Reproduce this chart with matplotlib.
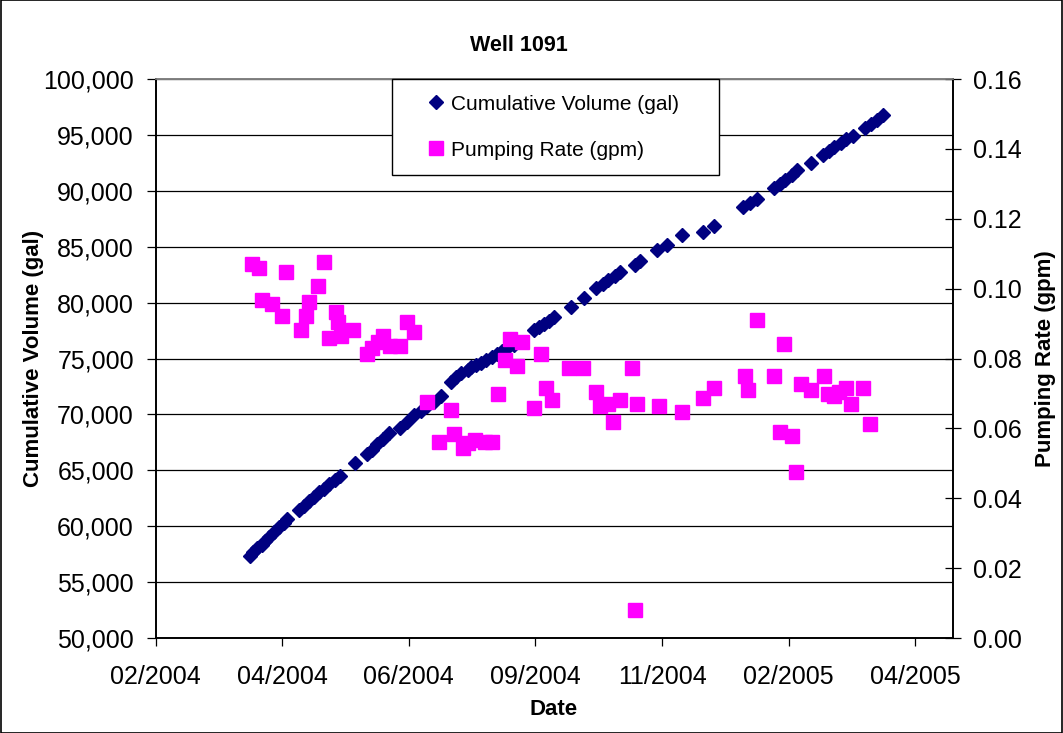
import pandas as pd
import matplotlib
matplotlib.use("Agg")
import matplotlib.pyplot as plt
import matplotlib.dates as mdates
from matplotlib.patches import Rectangle
from matplotlib.ticker import FuncFormatter, MultipleLocator, FixedLocator

plt.rcParams["font.family"] = ["Liberation Sans", "DejaVu Sans"]

# cumulative volume readings (gal)
vol_dates = [
    "2004-03-28", "2004-03-30", "2004-04-01", "2004-04-04", "2004-04-06",
    "2004-04-08", "2004-04-11", "2004-04-14", "2004-04-17", "2004-04-19",
    "2004-04-26", "2004-04-29", "2004-05-02", "2004-05-05", "2004-05-08",
    "2004-05-11", "2004-05-14", "2004-05-17", "2004-05-20", "2004-05-29",
    "2004-06-05", "2004-06-08", "2004-06-11", "2004-06-15", "2004-06-18",
    "2004-06-25", "2004-06-29", "2004-07-03", "2004-07-07", "2004-07-11",
    "2004-07-15", "2004-07-19", "2004-07-25", "2004-07-28", "2004-07-31",
    "2004-08-04", "2004-08-06", "2004-08-09", "2004-08-12", "2004-08-15",
    "2004-08-18", "2004-08-21", "2004-08-24", "2004-08-27", "2004-08-31",
    "2004-09-12", "2004-09-15", "2004-09-18", "2004-09-21", "2004-09-24",
    "2004-10-04", "2004-10-12", "2004-10-19", "2004-10-23", "2004-10-26",
    "2004-10-30", "2004-11-02", "2004-11-11", "2004-11-14", "2004-11-24",
    "2004-11-30", "2004-12-09", "2004-12-21", "2004-12-28", "2005-01-14",
    "2005-01-18", "2005-01-22", "2005-02-01", "2005-02-05", "2005-02-08",
    "2005-02-12", "2005-02-15", "2005-02-23", "2005-03-02", "2005-03-06",
    "2005-03-09", "2005-03-13", "2005-03-16", "2005-03-20", "2005-03-27",
    "2005-03-31", "2005-04-03", "2005-04-07",
]
volume = [
    57340, 57690, 58050, 58320, 58680,
    59030, 59480, 59930, 60290, 60650,
    61450, 61810, 62210, 62610, 63020,
    63370, 63780, 64130, 64490, 65610,
    66460, 66820, 67350, 67800, 68340,
    68790, 69320, 69950, 70310, 70710,
    71110, 71650, 72900, 73350, 73700,
    73970, 74200, 74420, 74640, 74870,
    75140, 75400, 75670, 75940, 76210,
    77550, 77820, 78090, 78360, 78710,
    79650, 80410, 81310, 81670, 82020,
    82380, 82740, 83370, 83680, 84710,
    85150, 86050, 86320, 86810, 88550,
    88910, 89270, 90250, 90610, 90970,
    91420, 91860, 92490, 93210, 93560,
    93920, 94280, 94640, 94900, 95620,
    95980, 96340, 96780,
]

# pumping rate readings (gpm)
rate_dates = [
    "2004-03-29", "2004-04-02", "2004-04-04", "2004-04-10", "2004-04-16",
    "2004-04-18", "2004-04-27", "2004-04-30", "2004-05-02", "2004-05-07",
    "2004-05-11", "2004-05-14", "2004-05-18", "2004-05-19", "2004-05-21",
    "2004-05-28", "2004-06-05", "2004-06-08", "2004-06-12", "2004-06-15",
    "2004-06-19", "2004-06-25", "2004-06-29", "2004-07-03", "2004-07-11",
    "2004-07-18", "2004-07-25", "2004-07-27", "2004-08-01", "2004-08-04",
    "2004-08-08", "2004-08-14", "2004-08-18", "2004-08-22", "2004-08-26",
    "2004-08-29", "2004-09-02", "2004-09-05", "2004-09-12", "2004-09-16",
    "2004-09-19", "2004-09-23", "2004-10-03", "2004-10-11", "2004-10-19",
    "2004-10-21", "2004-10-26", "2004-10-29", "2004-11-02", "2004-11-09",
    "2004-11-11", "2004-11-12", "2004-11-25", "2004-12-09", "2004-12-21",
    "2004-12-28", "2005-01-15", "2005-01-17", "2005-01-22", "2005-02-01",
    "2005-02-05", "2005-02-07", "2005-02-12", "2005-02-14", "2005-02-17",
    "2005-02-23", "2005-03-03", "2005-03-05", "2005-03-09", "2005-03-12",
    "2005-03-16", "2005-03-19", "2005-03-26", "2005-03-30",
]
rate = [
    0.1071, 0.1058, 0.0967, 0.0955, 0.0921,
    0.1047, 0.0881, 0.0921, 0.0961, 0.1008,
    0.1075, 0.0858, 0.0932, 0.0904, 0.0864,
    0.0881, 0.0812, 0.0829, 0.0846, 0.0864,
    0.0835, 0.0835, 0.0904, 0.0875, 0.0675,
    0.0560, 0.0652, 0.0583, 0.0543, 0.0558,
    0.0567, 0.0560, 0.0560, 0.0698, 0.0795,
    0.0857, 0.0778, 0.0846, 0.0657, 0.0812,
    0.0715, 0.0680, 0.0772, 0.0772, 0.0703,
    0.0663, 0.0669, 0.0617, 0.0680, 0.0772,
    0.0080, 0.0669, 0.0663, 0.0646, 0.0686,
    0.0715, 0.0749, 0.0709, 0.0909, 0.0749,
    0.0589, 0.0841, 0.0577, 0.0474, 0.0726,
    0.0709, 0.0749, 0.0698, 0.0692, 0.0703,
    0.0715, 0.0669, 0.0715, 0.0612,
]

vol_x = pd.to_datetime(vol_dates)
rate_x = pd.to_datetime(rate_dates)

# date axis: starts 02/2004, a tick every 75 days
x_start = pd.Timestamp("2004-02-01")
x_ticks = [x_start + pd.Timedelta(days=75 * i) for i in range(7)]
x_end = x_start + pd.Timedelta(days=472)

fig = plt.figure(figsize=(10.63, 7.33), dpi=100)
ax = fig.add_axes([0.1463, 0.1296, 0.7498, 0.7626])
ax2 = ax.twinx()

ax.plot(vol_x, volume, linestyle="none", marker="D", markersize=7.5,
        color="#000080", label="Cumulative Volume (gal)", zorder=3)
ax2.plot(rate_x, rate, linestyle="none", marker="s", markersize=10,
         color="#FF00FF", label="Pumping Rate (gpm)", zorder=3)

ax.set_xlim(mdates.date2num(x_start), mdates.date2num(x_end))
ax.xaxis.set_major_locator(FixedLocator(mdates.date2num(x_ticks)))
ax.xaxis.set_major_formatter(mdates.DateFormatter("%m/%Y"))

ax.set_ylim(50000, 100000)
ax.yaxis.set_major_locator(MultipleLocator(5000))
ax.yaxis.set_major_formatter(FuncFormatter(lambda v, p: "{:,.0f}".format(v)))
ax2.set_ylim(0, 0.16)
ax2.yaxis.set_major_locator(MultipleLocator(0.02))
ax2.yaxis.set_major_formatter(FuncFormatter(lambda v, p: "{:.2f}".format(v)))

ax.grid(axis="y", color="black", linewidth=0.9)
ax.set_axisbelow(True)

ax.tick_params(axis="y", direction="out", length=6.5, width=0.9, labelsize=18, pad=9)
ax.tick_params(axis="x", direction="out", length=5.5, width=0.9, labelsize=18, pad=14)
ax2.tick_params(axis="y", direction="inout", length=11.5, width=0.9, labelsize=18, pad=9)

for a in (ax, ax2):
    a.spines["top"].set_color("#808080")
    a.spines["left"].set_color("black")
    a.spines["right"].set_color("black")
    a.spines["bottom"].set_color("black")
    for s in a.spines.values():
        s.set_linewidth(1.2)

ax.set_ylabel("Cumulative Volume (gal)", fontsize=16, fontweight="bold")
ax.yaxis.set_label_coords(-0.14, 0.5)
ax2.set_ylabel("Pumping Rate (gpm)", fontsize=16, fontweight="bold")
ax2.yaxis.set_label_coords(1.104, 0.5)
ax.set_xlabel("Date", fontsize=16, fontweight="bold")
ax.xaxis.set_label_coords(0.5, -0.11)

fig.text(0.488, 0.938, "Well 1091", ha="center", va="center",
         fontsize=15.5, fontweight="bold")

handles = ax.get_lines() + ax2.get_lines()
leg = fig.legend(handles, [h.get_label() for h in handles],
                 loc="upper left", bbox_to_anchor=(0.3688, 0.7599, 0.3076, 0.1323),
                 mode="expand", borderaxespad=0, borderpad=0.75,
                 handlelength=2.74, handletextpad=-0.65, labelspacing=1.3,
                 fontsize=15, frameon=True, fancybox=False, framealpha=1,
                 edgecolor="black")
leg.get_frame().set_linewidth(1.0)

# chart area border
fig.patches.append(Rectangle((0.0005, 0.0005), 0.999, 0.999, transform=fig.transFigure,
                             fill=False, edgecolor="black", linewidth=1.2))

fig.savefig("out.png", dpi=100)
